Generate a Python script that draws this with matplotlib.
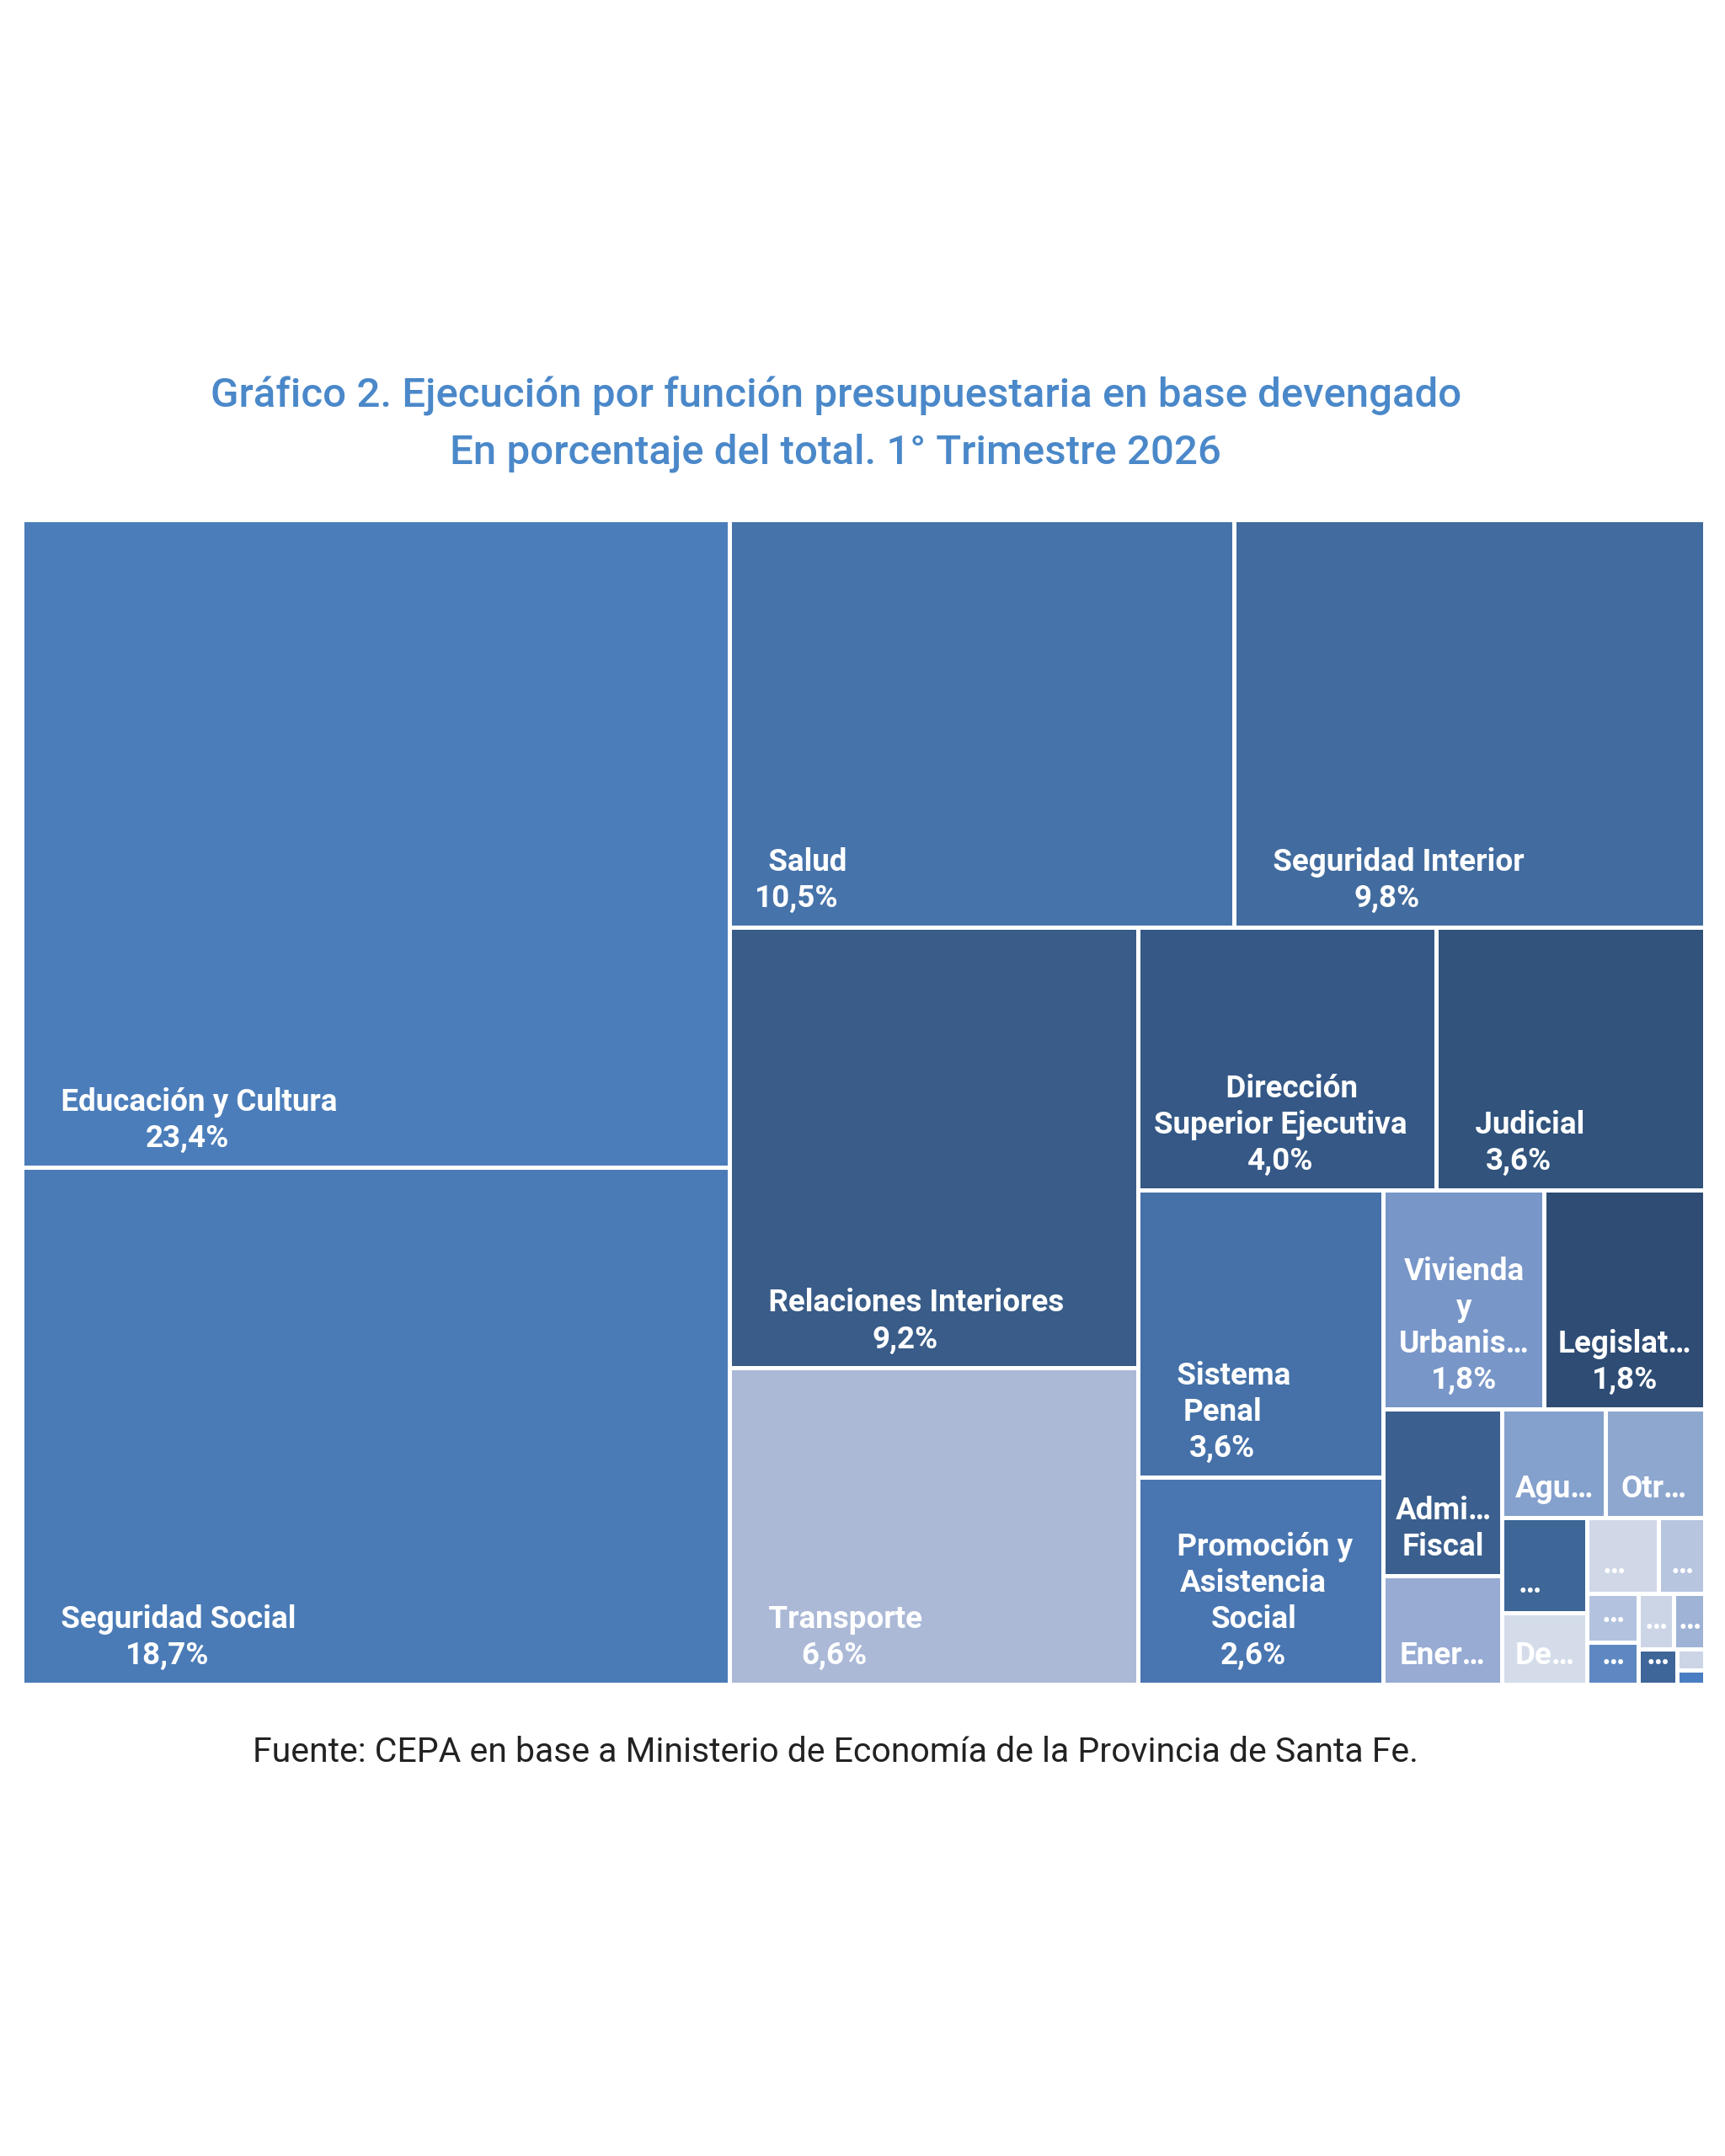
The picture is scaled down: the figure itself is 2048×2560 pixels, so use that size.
import matplotlib
matplotlib.use("Agg")
import matplotlib.pyplot as plt
from matplotlib.patches import Rectangle

plt.rcParams['font.family'] = ['Roboto', 'DejaVu Sans']

# data (percent of total, 1st quarter 2026)
labels = ["Educación y Cultura", "Seguridad Social", "Salud", "Seguridad Interior",
          "Relaciones Interiores", "Transporte", "Dirección\nSuperior Ejecutiva",
          "Judicial", "Sistema\nPenal", "Promoción y\nAsistencia\nSocial",
          "Vivienda\ny\nUrbanis…", "Legislat…", "Admi…\nFiscal", "Ener…", "Agu…",
          "Otr…", "…", "De…", "…", "…", "…", "…", "…", "…", "…", "…", "…"]
values = [23.4, 18.7, 10.5, 9.8, 9.2, 6.6, 4.0, 3.6, 3.6, 2.6, 1.8, 1.8,
          1.01, 0.66, 0.57, 0.55, 0.41, 0.31, 0.28, 0.18, 0.13, 0.11, 0.10,
          0.09, 0.07, 0.03, 0.02]
show_pct = [True] * 12 + [False] * 15

colors = ["#4b7dba", "#4a7bb6", "#4673aa", "#426c9f", "#395c88", "#abb9d7",
          "#355886", "#31537c", "#4571a8", "#4976b1", "#7896c8", "#2e4c74",
          "#3b5f8e", "#97abd3", "#84a0cc", "#8ea7cf", "#3e6697", "#d4dcea",
          "#d0d8e8", "#b7c5df", "#b3c3df", "#5f88c2", "#ccd5e6", "#9fb3d7",
          "#3e6699", "#ccd5e6", "#4a7ec2"]

title = "Gráfico 2. Ejecución por función presupuestaria en base devengado\nEn porcentaje del total. 1° Trimestre 2026"
source = "Fuente: CEPA en base a Ministerio de Economía de la Provincia de Santa Fe."


def worst(row, side):
    s = sum(row)
    t = s / side
    return max(max(t * t / r, r / (t * t)) for r in row)


def squarify(vals, x, y, w, h):
    total = sum(vals)
    areas = [v * w * h / total for v in vals]
    rects = []
    i = 0
    while i < len(areas):
        side = min(w, h)
        row = [areas[i]]
        j = i + 1
        while j < len(areas) and worst(row + [areas[j]], side) <= worst(row, side):
            row.append(areas[j])
            j += 1
        s = sum(row)
        if w >= h:
            t = s / h
            yy = y
            for a in row:
                rects.append((x, yy, t, a / t))
                yy += a / t
            x += t
            w -= t
        else:
            t = s / w
            xx = x
            for a in row:
                rects.append((xx, y, a / t, t))
                xx += a / t
            y += t
            h -= t
        i = j
    return rects


W, H = 2048, 2560
fig = plt.figure(figsize=(W / 100, H / 100), dpi=100)
ax = fig.add_axes([0, 0, 1, 1])
ax.set_xlim(0, W)
ax.set_ylim(H, 0)
ax.axis("off")

gap = 2.5
X0, Y0, X1, Y1 = 29, 620, 2022, 1998
rects = squarify(values, X0 - gap, Y0 - gap, X1 - X0 + 2 * gap, Y1 - Y0 + 2 * gap)

fig.canvas.draw()
renderer = fig.canvas.get_renderer()
pad = 16

for (x, y, w, h), lab, v, pct, c in zip(rects, labels, values, show_pct, colors):
    x, y, w, h = x + gap, y + gap, w - 2 * gap, h - 2 * gap
    patch = Rectangle((x, y), w, h, facecolor=c, edgecolor="none")
    ax.add_patch(patch)
    if h < 32 or w < 20:
        continue
    body = lab + ("\n" + f"{v:.1f}".replace(".", ",") + "%" if pct else "")
    kw = dict(ha="left", va="bottom", multialignment="center", color="white",
              fontsize=26.5, fontweight="bold", linespacing=1.25)
    t = ax.text(x + pad, y + h - 14, "   " + body if pct else body, **kw)
    if pct and t.get_window_extent(renderer).width > w - 2 * pad:
        t.set_text(body)
    if t.get_window_extent(renderer).width > w - 2 * pad:
        t.set_ha("center")
        t.set_x(x + w / 2)
    t.set_clip_path(patch)

fig.text(0.4845, 1 - 504 / H, title, ha="center", va="center", color="#4a88c9",
         fontsize=35.5, fontweight="medium", linespacing=1.55)
fig.text(0.4845, 1 - 2081 / H, source, ha="center", va="center", color="#222222",
         fontsize=29.5)

fig.savefig("out.png", dpi=100, facecolor="white")
